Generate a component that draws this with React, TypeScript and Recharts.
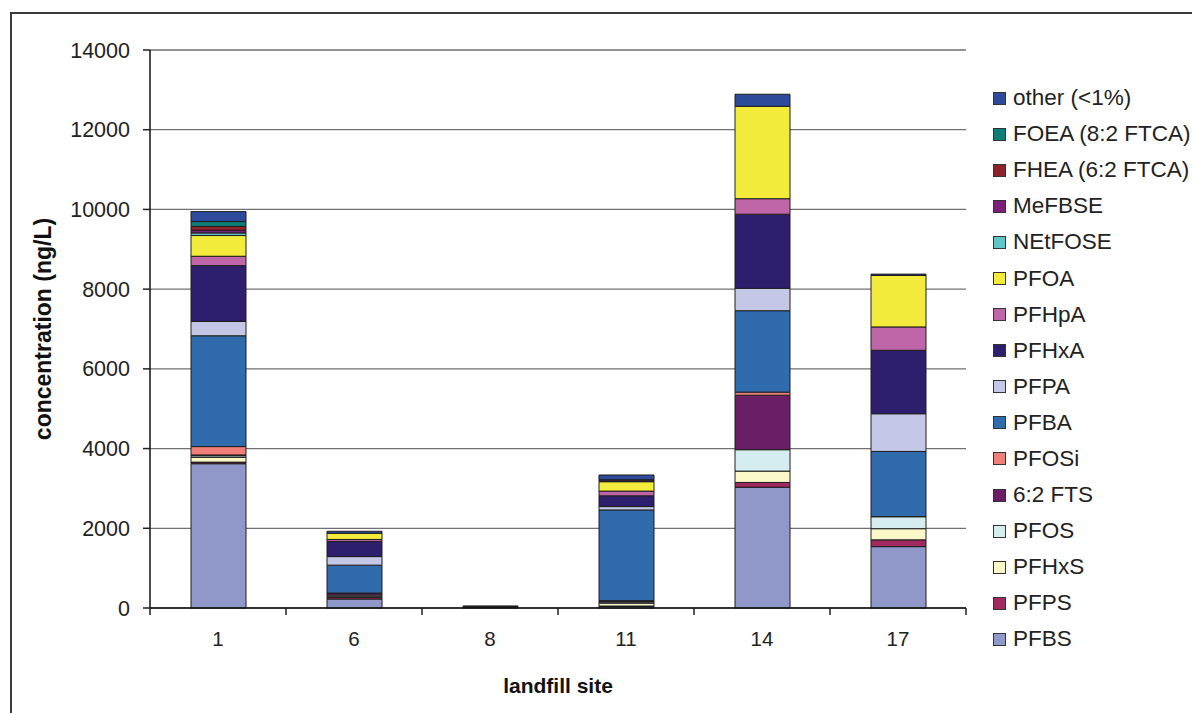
import React from 'react';
import { BarChart, Bar, XAxis, YAxis, CartesianGrid } from 'recharts';

const sites = ['1', '6', '8', '11', '14', '17'];
const yTicks = [0, 2000, 4000, 6000, 8000, 10000, 12000, 14000];

const PFBS = [3620, 225, 15, 40, 3030, 1540];
const PFPS = [40, 40, 0, 10, 120, 170];
const PFHxS = [120, 30, 0, 70, 285, 280];
const PFOS = [40, 30, 0, 30, 537, 300];
const FTS62 = [20, 50, 0, 30, 1366, 0];
const PFOSi = [210, 0, 0, 5, 78, 5];
const PFBA = [2780, 700, 15, 2275, 2042, 1633];
const PFPA = [360, 215, 0, 85, 562, 946];
const PFHxA = [1400, 380, 10, 270, 1860, 1592];
const PFHpA = [235, 50, 0, 118, 389, 586];
const PFOA = [520, 155, 0, 236, 2318, 1290];
const NEtFOSE = [65, 0, 0, 20, 0, 0];
const MeFBSE = [65, 0, 0, 30, 0, 0];
const FHEA = [100, 0, 0, 0, 0, 0];
const FOEA = [120, 0, 0, 0, 0, 0];
const other = [250, 50, 10, 118, 303, 35];

const series = [
  { key: 'PFBS', name: 'PFBS', color: '#8F98C8', values: PFBS },
  { key: 'PFPS', name: 'PFPS', color: '#A0295F', values: PFPS },
  { key: 'PFHxS', name: 'PFHxS', color: '#FAF8C8', values: PFHxS },
  { key: 'PFOS', name: 'PFOS', color: '#D6EDF0', values: PFOS },
  { key: 'FTS62', name: '6:2 FTS', color: '#6A1E66', values: FTS62 },
  { key: 'PFOSi', name: 'PFOSi', color: '#EF7F78', values: PFOSi },
  { key: 'PFBA', name: 'PFBA', color: '#306BAE', values: PFBA },
  { key: 'PFPA', name: 'PFPA', color: '#C4C7E5', values: PFPA },
  { key: 'PFHxA', name: 'PFHxA', color: '#2D1F6D', values: PFHxA },
  { key: 'PFHpA', name: 'PFHpA', color: '#BE66A8', values: PFHpA },
  { key: 'PFOA', name: 'PFOA', color: '#F4EC3C', values: PFOA },
  { key: 'NEtFOSE', name: 'NEtFOSE', color: '#62C6C8', values: NEtFOSE },
  { key: 'MeFBSE', name: 'MeFBSE', color: '#7B1F7B', values: MeFBSE },
  { key: 'FHEA', name: 'FHEA (6:2 FTCA)', color: '#8C2328', values: FHEA },
  { key: 'FOEA', name: 'FOEA (8:2 FTCA)', color: '#0F7D78', values: FOEA },
  { key: 'other', name: 'other (<1%)', color: '#2E4A9A', values: other },
];

const data = sites.map((site, i) => {
  const row: Record<string, number | string> = { site };
  series.forEach((s) => {
    row[s.key] = s.values[i];
  });
  return row;
});

const FONT = '"Liberation Sans", Arial, sans-serif';
const X_TICK_MARGIN = 23;

const CategoryTick = (props: any) => {
  const { x, y, payload, index, visibleTicksCount } = props;
  const half = payload && typeof payload.offset === 'number' && payload.offset > 0 ? payload.offset : 68;
  const axisY = y - X_TICK_MARGIN;
  const isLast = index === (visibleTicksCount ?? sites.length) - 1;
  return (
    <g>
      <line x1={x - half} x2={x - half} y1={axisY} y2={axisY + 7} stroke="#222" strokeWidth={1.5} />
      {isLast && <line x1={x + half} x2={x + half} y1={axisY} y2={axisY + 7} stroke="#222" strokeWidth={1.5} />}
      <text x={x} y={y} dy="0.71em" textAnchor="middle" fill="#222" fontSize={20.5} fontFamily={FONT}>
        {payload.value}
      </text>
    </g>
  );
};

export default function App() {
  return (
    <div style={{ position: 'relative', width: 1192, height: 713, overflow: 'hidden', background: '#fff', fontFamily: FONT }}>
      <style>{`body{margin:0;overflow:hidden;background:#fff}`}</style>
      <div
        style={{
          position: 'absolute',
          left: 10,
          top: 12,
          width: 1200,
          height: 720,
          border: '2px solid #3a3a3a',
          boxSizing: 'border-box',
        }}
      />
      <div style={{ position: 'absolute', left: 0, top: 0 }}>
        <BarChart
          width={1192}
          height={713}
          data={data}
          margin={{ top: 50, right: 226, left: 0, bottom: 0 }}
        >
          <CartesianGrid vertical={false} stroke="#707070" strokeWidth={1.3} />
          <XAxis
            dataKey="site"
            height={105}
            interval={0}
            tickLine={false}
            tickSize={0}
            tickMargin={X_TICK_MARGIN}
            axisLine={{ stroke: '#111', strokeWidth: 1.5 }}
            tick={<CategoryTick />}
            label={{
              value: 'landfill site',
              position: 'insideBottom',
              offset: 20,
              style: { fill: '#111', fontSize: 21, fontWeight: 'bold', fontFamily: FONT },
            }}
          />
          <YAxis
            width={150}
            domain={[0, 14000]}
            ticks={yTicks}
            interval={0}
            tickSize={7}
            tickMargin={13}
            axisLine={{ stroke: '#111', strokeWidth: 1.5 }}
            tickLine={{ stroke: '#222', strokeWidth: 1.5 }}
            tick={{ fill: '#222', fontSize: 21.5, fontFamily: FONT }}
            label={{
              value: 'concentration (ng/L)',
              angle: -90,
              position: 'insideLeft',
              offset: 43,
              style: { textAnchor: 'middle', fill: '#111', fontSize: 23, fontWeight: 'bold', fontFamily: FONT },
            }}
          />
          <YAxis
            yAxisId="r"
            orientation="right"
            width={0}
            domain={[0, 14000]}
            tick={false}
            tickLine={false}
            axisLine={{ stroke: '#707070', strokeWidth: 1.3 }}
          />
          {series.map((s) => (
            <Bar
              key={s.key}
              dataKey={s.key}
              name={s.name}
              stackId="a"
              fill={s.color}
              stroke="#1e1e1e"
              strokeWidth={1}
              barSize={55}
              isAnimationActive={false}
            />
          ))}
        </BarChart>
      </div>
      <div style={{ position: 'absolute', left: 993, top: 80 }}>
        {[...series].reverse().map((s) => (
          <div key={s.key} style={{ height: 36.1, display: 'flex', alignItems: 'center' }}>
            <span
              style={{
                display: 'inline-block',
                width: 13,
                height: 13,
                background: s.color,
                border: '1px solid #333',
                boxSizing: 'border-box',
                marginRight: 7,
              }}
            />
            <span style={{ fontSize: 22.5, color: '#222', whiteSpace: 'nowrap' }}>{s.name}</span>
          </div>
        ))}
      </div>
    </div>
  );
}
